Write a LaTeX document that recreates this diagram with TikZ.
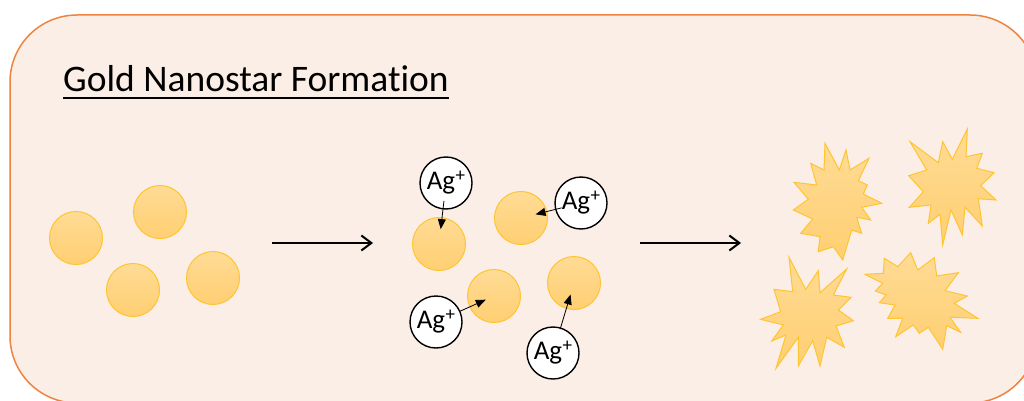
\documentclass[tikz,border=0pt]{standalone}
\usepackage{fontspec}
\setmainfont[Ligatures=NoCommon]{Carlito}
\usetikzlibrary{arrows.meta}
\definecolor{panelfill}{HTML}{FAEEE6}
\definecolor{panelline}{HTML}{EE8440}
\definecolor{goldtop}{HTML}{FFDB95}
\definecolor{goldbot}{HTML}{FFCF72}
\definecolor{goldline}{HTML}{FFC530}
\newcommand{\silverion}{Ag\kern0.02em\raisebox{0.3em}{\fontsize{19}{19}\selectfont +}}
\tikzset{
  panel/.style={draw=panelline, fill=panelfill, line width=1.5pt, rounded corners=67pt},
  gold/.style={circle, inner sep=0pt, minimum size=53pt, draw=goldline, line width=1pt,
    top color=goldtop, bottom color=goldbot},
  ion/.style={circle, inner sep=0pt, minimum size=52pt, draw=black, line width=1.4pt,
    fill=white, font=\fontsize{27}{27}\selectfont},
  ionarrow/.style={-{Triangle[length=10pt,width=8pt]}, line width=0.8pt},
  bigarrow/.style={-{Straight Barb[length=10pt,width=15pt]}, line width=2pt},
  starshape/.style={draw=goldline, line width=1pt, line join=miter, miter limit=20,
    top color=goldtop, bottom color=goldbot},
}
\begin{document}
\begin{tikzpicture}[x=1pt,y=-1pt]
\useasboundingbox (0,0) rectangle (1024,401);
\fill[white] (0,0) rectangle (1024,401);
\clip (0,0) rectangle (1024,401);

% background panel
\draw[panel] (10,15) rectangle (1037,403);

% title
\node[anchor=base west, inner sep=0pt, font=\fontsize{37.5}{42}\selectfont] (title) at (63,92) {Gold Nanostar Formation};
\draw[line width=2pt] ([yshift=-6pt]title.base west) -- ([yshift=-6pt]title.base east);

% seed particles
\node[gold] (l1) at (76,238) {};
\node[gold] (l2) at (160,212) {};
\node[gold] (l3) at (133,290) {};
\node[gold] (l4) at (213,278) {};

% first step
\coordinate (a1s) at (272,243);
\coordinate (a1e) at (373,243);
\draw[bigarrow] (a1s) -- (a1e);

% particles with silver ions
\node[gold] (m1) at (439,244) {};
\node[gold] (m2) at (521,218) {};
\node[gold] (m3) at (494,296) {};
\node[gold] (m4) at (574,283) {};

\node[ion] (i1) at (446,183) {\silverion};
\node[ion] (i2) at (581,203) {\silverion};
\node[ion] (i3) at (436,322) {\silverion};
\node[ion] (i4) at (553,353) {\silverion};

\draw[ionarrow, shorten <=18pt, shorten >=15pt] (i1.center) -- (m1.center);
\draw[ionarrow, shorten <=20pt, shorten >=15pt] (i2.center) -- (m2.center);
\draw[ionarrow, shorten <=26pt, shorten >=9pt] (i3.center) -- (m3.center);
\draw[ionarrow, shorten <=25pt, shorten >=12pt] (i4.center) -- (m4.center);

% second step
\coordinate (a2s) at (640,243);
\coordinate (a2e) at (741,243);
\draw[bigarrow] (a2s) -- (a2e);

% nanostars
\draw[starshape] (825,143.3) -- (839.3,170) -- (846,150) -- (850,170) -- (869,158.3)
  -- (858.3,180.7) -- (867.3,185) -- (863.3,194) -- (881.7,203.3) -- (861.7,207.3)
  -- (870.7,220) -- (856.7,217.3) -- (861.7,233.3) -- (851.7,230) -- (842.7,260)
  -- (833.3,246.7) -- (818.3,251.7) -- (820,236.7) -- (800.7,233.3) -- (812.7,219)
  -- (793.3,210) -- (808.3,199.3) -- (794,182.3) -- (816.7,185) -- (810.7,163.3)
  -- (824,170) -- cycle;

\draw[starshape] (910,141.7) -- (938.3,162.7) -- (942.7,141.7) -- (952.3,159.3)
  -- (967.3,129) -- (966,156.7) -- (982.3,153.3) -- (976.7,168.3) -- (994,172.7)
  -- (980.7,185.7) -- (996,200) -- (978.3,198.7) -- (982.3,226) -- (965,207.3)
  -- (962.3,235) -- (951,210) -- (942.7,245) -- (940,214.3) -- (928.3,223.3)
  -- (931,205) -- (909.3,207.3) -- (923.3,191.7) -- (908.7,175.7) -- (926.7,170)
  -- cycle;

\draw[starshape] (789,257.3) -- (805.7,289.3) -- (818.3,270.7) -- (820,292.7)
  -- (846.7,269) -- (833.3,295) -- (851,297.3) -- (838.3,310) -- (853.3,320.7)
  -- (836,326) -- (844.3,347.3) -- (826.7,337.3) -- (820,366) -- (812.7,340.7)
  -- (798.3,366) -- (798.3,337.3) -- (776,368.3) -- (786,335) -- (771.7,341)
  -- (783.3,325) -- (760.7,319.3) -- (780.7,311.7) -- (774,289.3) -- (792.7,291.7)
  -- cycle;

\draw[starshape] (865,274.3) -- (883.3,273.3) -- (884.3,258.3) -- (897.7,266.7)
  -- (910.7,252.7) -- (917.7,270) -- (934.3,257.7) -- (936.7,276) -- (958.3,272.7)
  -- (945,290.7) -- (967.3,296) -- (954.3,303.3) -- (977.7,318.3) -- (950,317.3)
  -- (960.7,332.3) -- (946.7,325.7) -- (942.7,349.3) -- (928.3,327.3) -- (919.3,333.3)
  -- (913.3,325) -- (895.7,336.7) -- (902.7,318.3) -- (887.7,318.3) -- (895,305)
  -- (879.3,302.7) -- (886,295) -- (875.3,291) -- (882.7,283.3) -- cycle;
\end{tikzpicture}
\end{document}
